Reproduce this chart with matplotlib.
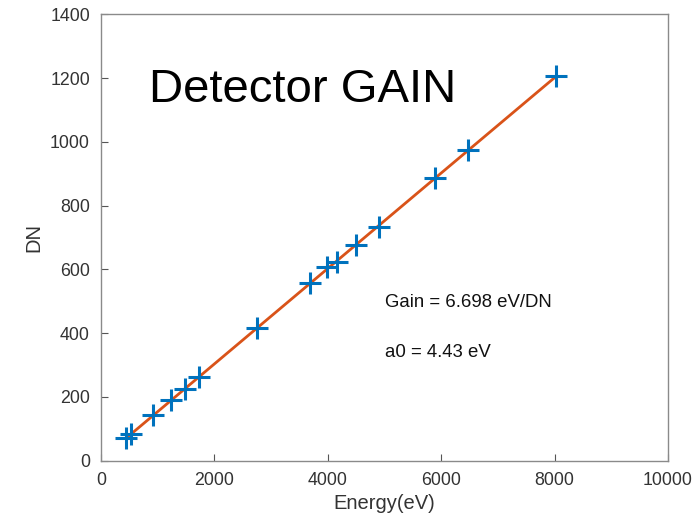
import numpy as np
import matplotlib
matplotlib.use("Agg")
import matplotlib.pyplot as plt

plt.rcParams['font.family'] = ['Liberation Sans', 'DejaVu Sans']

# energia (eV) e DN
energia = [441, 524, 912, 1235, 1481, 1734, 2746, 3686, 3991, 4157,
           4497, 4903, 5891, 6478, 8025]
dn = [70, 84, 143, 190, 224, 263, 415, 556, 606, 624,
      676, 732, 886, 974, 1208]

x_ticks = [0, 2000, 4000, 6000, 8000, 10000]
y_ticks = [0, 200, 400, 600, 800, 1000, 1200, 1400]

texto_gain = "Gain = 6.698 eV/DN"
texto_a0 = "a0 = 4.43 eV"

azul = "#0072BD"
laranja = "#D95319"
cinza = "#8a8a8a"

fig = plt.figure(figsize=(6.97, 5.21), dpi=100)
ax = fig.add_axes([0.1449, 0.1157, 0.9584 - 0.1449, 0.9726 - 0.1157])

# reta ajustada
coef = np.polyfit(energia, dn, 1)
x_reta = np.array([min(energia), max(energia)])
ax.plot(x_reta, np.polyval(coef, x_reta), color=laranja, lw=2, zorder=2)

ax.plot(energia, dn, linestyle="none", marker="+", markersize=16,
        markeredgewidth=2.2, color=azul, zorder=3)

ax.set_xlim(0, 10000)
ax.set_ylim(0, 1400)
ax.set_xticks(x_ticks)
ax.set_yticks(y_ticks)

for lado in ax.spines.values():
    lado.set_color(cinza)
    lado.set_linewidth(1.0)

ax.tick_params(direction="in", length=5, width=0.8, color="#555555",
               labelsize=12.8, labelcolor="#333333", pad=8)

ax.set_xlabel("Energy(eV)", fontsize=14.5, color="#333333", labelpad=4)
ax.set_ylabel("DN", fontsize=14.5, color="#333333", labelpad=5)

ax.text(840, 1125, "Detector GAIN", fontsize=34, color="black",
        va="baseline", ha="left")
ax.text(5000, 482, texto_gain, fontsize=13.4, color="#111111",
        va="baseline", ha="left")
ax.text(5000, 325, texto_a0, fontsize=13.4, color="#111111",
        va="baseline", ha="left")

fig.savefig("out.png", dpi=100)
